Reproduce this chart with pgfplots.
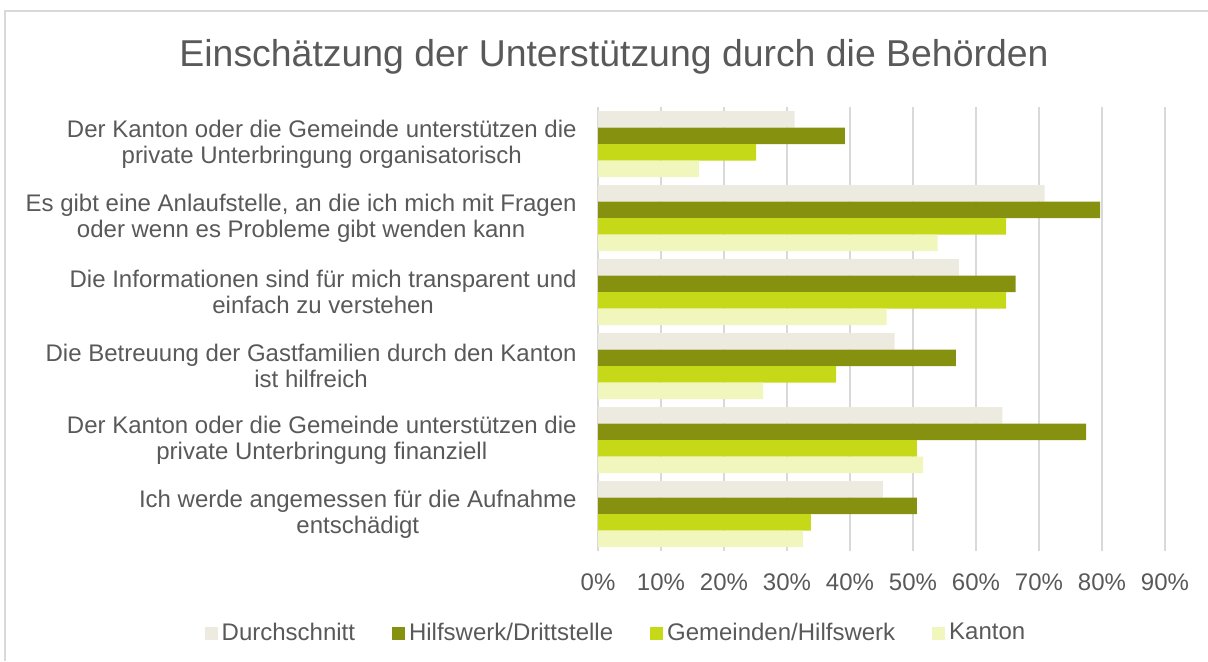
\documentclass[border=0pt]{standalone}
\usepackage{fontspec}
\setmainfont{Liberation Sans}
\usepackage{pgfplots}
\pgfplotsset{compat=1.18}
\definecolor{txt}{HTML}{595959}
\definecolor{bordergrey}{HTML}{D9D9D9}
\definecolor{cDurch}{HTML}{EDEBE0}
\definecolor{cHilfs}{HTML}{879110}
\definecolor{cGem}{HTML}{C5D919}
\definecolor{cKanton}{HTML}{F1F6BD}
\begin{document}
\begin{tikzpicture}
\path[use as bounding box] (0,0) rectangle (604pt,330.5pt);
\draw[color=bordergrey, line width=0.6pt] (2.5pt,0) -- (2.5pt,325pt) -- (604pt,325pt);
\node[anchor=base, font=\fontsize{18.7pt}{22pt}\selectfont, text=txt, inner sep=0pt] at (307pt,297.5pt) {Einschätzung der Unterstützung durch die Behörden};
\begin{axis}[
  at={(299pt,55pt)}, anchor=south west,
  scale only axis, width=283.5pt, height=222pt,
  xbar, bar width=0.223,
  xmin=0, xmax=90, ymin=-0.5, ymax=5.5,
  xtick={0,10,...,90},
  xticklabel={\pgfmathprintnumber{\tick}\%},
  /pgf/number format/assume math mode=true,
  ytick={0,1,2,3,4,5},
  yticklabels={
    {Ich werde angemessen für die Aufnahme\\entschädigt},
    {Der Kanton oder die Gemeinde unterstützen die\\private Unterbringung finanziell},
    {Die Betreuung der Gastfamilien durch den Kanton\\ist hilfreich},
    {Die Informationen sind für mich transparent und\\einfach zu verstehen},
    {Es gibt eine Anlaufstelle, an die ich mich mit Fragen\\oder wenn es Probleme gibt wenden kann},
    {Der Kanton oder die Gemeinde unterstützen die\\private Unterbringung organisatorisch}},
  yticklabel style={align=center, inner sep=0pt, xshift=-10.5pt, text=txt, font=\fontsize{12pt}{13pt}\selectfont},
  xticklabel style={inner sep=0pt, yshift=-11pt, text=txt, font=\fontsize{12pt}{13pt}\selectfont},
  major tick length=0pt,
  axis line style={draw=none},
  xmajorgrids, grid style={color=bordergrey, line width=0.7pt},
  legend style={at={(0.0335,-0.185)}, anchor=center, draw=none, fill=none,
    text=txt, font=\fontsize{12pt}{13pt}\selectfont,
    column sep=0pt, /tikz/every even column/.append style={column sep=16.5pt}},
  legend columns=4, legend cell align=left,
  legend image code/.code={\fill[#1] (0pt,-3.25pt) rectangle (6.5pt,3.25pt);},
  clip=false,
]
\addplot[fill=cDurch, draw=none, bar shift=0.3345] coordinates {(31.2,5) (70.9,4) (57.3,3) (47.1,2) (64.2,1) (45.2,0)};
\addplot[fill=cHilfs, draw=none, bar shift=0.1115] coordinates {(39.2,5) (79.7,4) (66.3,3) (56.8,2) (77.5,1) (50.6,0)};
\addplot[fill=cGem, draw=none, bar shift=-0.1115] coordinates {(25.1,5) (64.8,4) (64.8,3) (37.8,2) (50.6,1) (33.8,0)};
\addplot[fill=cKanton, draw=none, bar shift=-0.3345] coordinates {(16.0,5) (53.9,4) (45.8,3) (26.2,2) (51.6,1) (32.5,0)};
\legend{Durchschnitt, Hilfswerk/Drittstelle, Gemeinden/Hilfswerk, Kanton}
\end{axis}
\end{tikzpicture}
\end{document}
